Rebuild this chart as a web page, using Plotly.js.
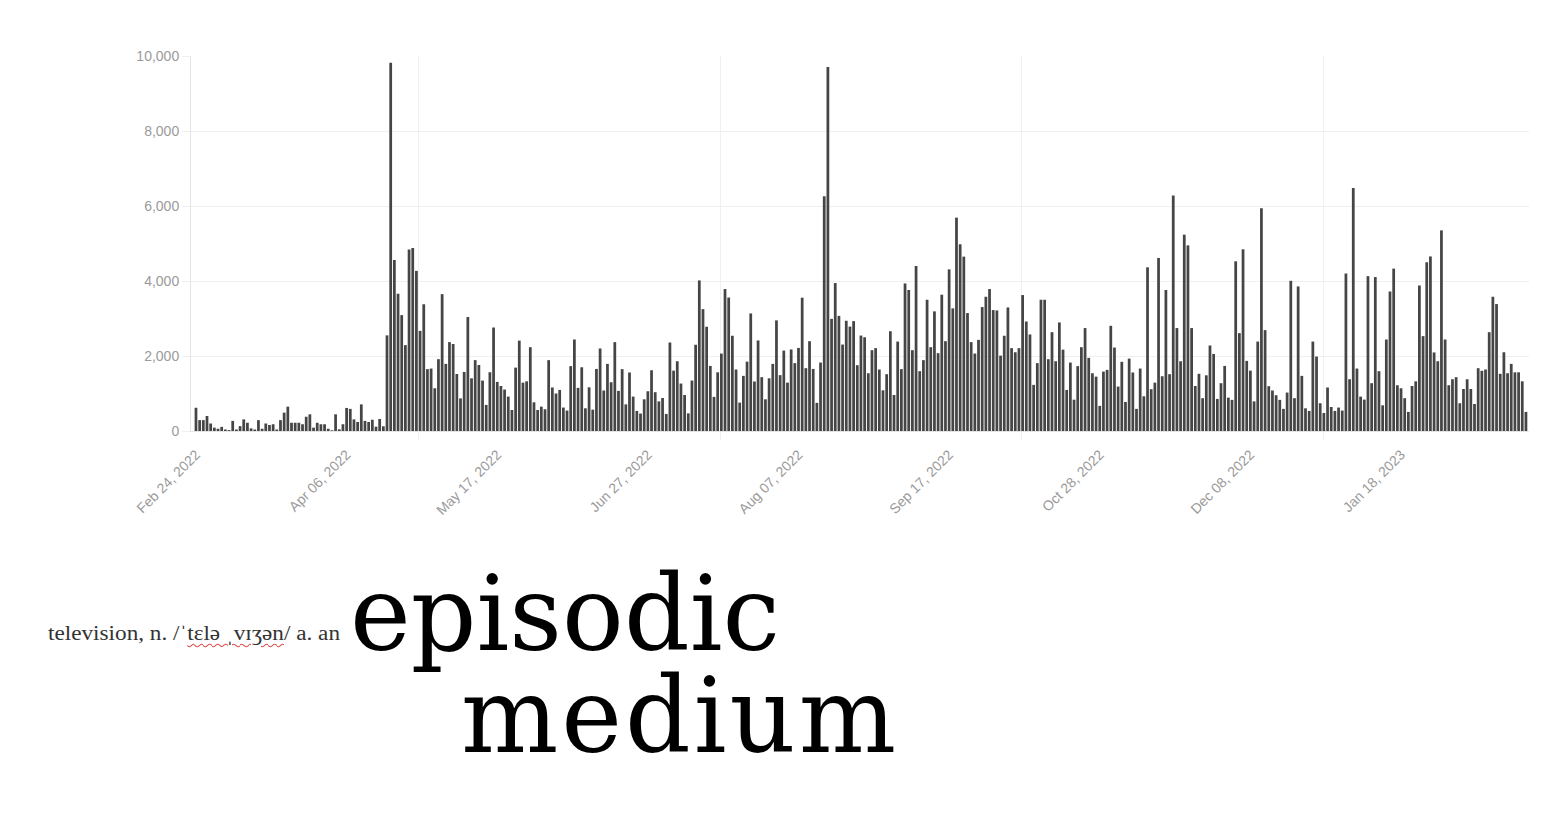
<!DOCTYPE html>
<html>
<head>
<meta charset="utf-8">
<script src="https://cdn.plot.ly/plotly-3.0.1.min.js"></script>
<style>
  html, body { margin: 0; padding: 0; background: #fff; }
  body { width: 1566px; height: 814px; position: relative; overflow: hidden; }
  #chart { position: absolute; left: 0; top: 0; width: 1566px; height: 814px; }
  .txt { position: absolute; line-height: normal; transform-origin: 0 0; }
  #def { white-space: nowrap; font-family: "Liberation Serif", "Times New Roman", serif; font-size: 20px; color: #333; }
  #def .sq { text-decoration: underline wavy #d9534f; text-decoration-thickness: 1px; text-underline-offset: 3px; }
  #big { white-space: normal; font-family: "DejaVu Serif", "Liberation Serif", serif; font-size: 104px; line-height: 102px; color: #000; width: 640px; letter-spacing: 3px; }
  #big::first-line { letter-spacing: 0px; }
</style>
</head>
<body>
<div id="chart"></div>
<div id="def" class="txt">television, n. /ˈ<span class="sq">tɛlə ˌvɪʒən</span>/ a. an</div>
<div id="big" class="txt">episodic medium</div>
<script>
// ---- data ----
const startDate = "2022-02-24";
const dailyCounts = [
  620,290,290,400,200,90,60,110,40,25,270,40,130,310,220,70,40,290,60,200,160,180,40,290,490,650,220,220,220,180,380,445,90,220,180,180,60,20,
  445,45,180,615,590,310,240,710,270,240,300,115,320,125,2550,9820,4560,3660,3090,2290,4840,4880,4270,2670,3380,1650,1665,1140,1915,3650,1790,2370,2320,1520,870,1575,3040,1405,1890,1760,
  1345,695,1567,2760,1310,1200,1105,917,560,1690,2410,1290,1325,2235,765,560,650,580,1890,1160,1000,1095,625,545,1730,2440,1150,1700,605,1165,570,1655,2200,1080,1790,1300,2370,1070,1650,710,
  1560,917,535,465,845,1060,1620,1035,790,880,455,2360,1610,1860,1265,960,470,1345,2300,4015,3250,2780,1735,910,1565,2065,3785,3560,2540,1640,757,1470,1850,3135,1320,2415,1435,845,1405,
  1790,2950,1490,2145,1290,2175,1810,2215,3555,1675,2395,1655,750,1825,6260,9705,2990,3945,3070,2305,2940,2785,2930,1755,2545,2500,1540,2155,2210,1640,1085,1515,2660,960,2385,1650,3935,3760,2155,
  4400,1595,1890,3500,2235,3190,2075,3635,2395,4310,3270,5690,4980,4650,3145,2370,2065,2430,3305,3580,3785,3225,3215,2010,2540,3295,2210,2100,2210,3625,2920,2575,1230,1810,3500,3500,1915,2635,1860,2895,
  2170,1095,1825,835,1730,2235,2745,1950,1540,1450,670,1585,1630,2805,2225,1185,1845,775,1930,1560,590,1665,925,4365,1115,1290,4615,1460,3760,1515,6280,2745,1860,5235,4950,2745,1200,1525,875,
  1485,2280,2055,855,1275,1735,890,830,4525,2610,4845,1870,1610,790,2385,5940,2690,1195,1080,955,830,590,1025,4005,875,3855,1470,605,535,2385,1985,740,480,1160,640,535,625,545,4200,1380,
  6480,1665,917,837,4130,1275,4105,1595,685,2440,3720,4330,1220,1140,875,510,1200,1325,3880,2530,4500,4655,2095,1860,5350,2440,1220,1380,1435,740,1120,1380,1120,720,1675,1605,1640,2635,3580,3385,1525,2100,1540,1790,1565,1565,1325,510
];
const xTickDates = ["2022-02-24","2022-04-06","2022-05-17","2022-06-27","2022-08-07","2022-09-17","2022-10-28","2022-12-08","2023-01-18"];
const xGridDates = ["2022-04-25 12:00","2022-07-16 16:48","2022-10-06 16:48","2022-12-27 19:12"];
const yTickValues = [0,2000,4000,6000,8000,10000];

// build day categories from the start date
const days = [];
const t0 = Date.parse(startDate + "T00:00:00Z");
for (let i = 0; i < dailyCounts.length; i++) {
  days.push(new Date(t0 + i * 86400000).toISOString().slice(0, 10));
}

const trace = {
  type: "bar",
  x: days,
  y: dailyCounts,
  marker: { color: "#454545", line: { width: 0 } },
  hoverinfo: "x+y"
};

const tickFont = { family: "Liberation Sans, Arial, Helvetica, sans-serif", size: 14, color: "#9a9a9a" };

const layout = {
  width: 1566, height: 814,
  margin: { l: 191, r: 37, t: 56, b: 383, pad: 0 },
  paper_bgcolor: "#fff", plot_bgcolor: "#fff",
  showlegend: false,
  bargap: 0.25,
  xaxis: {
    type: "date",
    range: ["2022-02-22 15:30", "2023-02-21 20:00"],
    tickmode: "array",
    tickvals: xTickDates,
    tickformat: "%b %d, %Y",
    tickangle: -45,
    tickfont: tickFont,
    ticks: "outside", ticklen: 9, tickcolor: "rgba(0,0,0,0)",
    showgrid: false,
    showline: true, linecolor: "#e4e4e4", linewidth: 1,
    zeroline: false,
    minor: { tickmode: "array", tickvals: xGridDates, showgrid: true, gridcolor: "#f0f0f0", gridwidth: 1, ticks: "outside", ticklen: 8, tickcolor: "#f0f0f0" },
    fixedrange: true
  },
  yaxis: {
    range: [0, 10000],
    tickmode: "array",
    tickvals: yTickValues,
    tickformat: ",d",
    tickfont: tickFont,
    ticks: "outside", ticklen: 8, tickcolor: "#efefef",
    showgrid: true, gridcolor: "#efefef", gridwidth: 1,
    showline: true, linecolor: "#e4e4e4", linewidth: 1,
    zeroline: false,
    fixedrange: true
  }
};

Plotly.newPlot("chart", [trace], layout, { displayModeBar: false, staticPlot: true });

// ---- text block under the chart ----
function baselineOffset(el) {
  const probe = document.createElement("span");
  probe.style.cssText = "display:inline-block;width:0;height:0;vertical-align:baseline";
  el.insertBefore(probe, el.firstChild);
  const b = probe.getBoundingClientRect().bottom - el.getBoundingClientRect().top;
  el.removeChild(probe);
  return b;
}
// small definition line
(function () {
  const el = document.getElementById("def");
  el.style.left = "48px"; el.style.top = "0px";
  el.style.top = (640 - baselineOffset(el)) + "px";
  const w = el.getBoundingClientRect().width;
  el.style.transform = "scaleX(" + (292 / w) + ")";
})();
// big two-line phrase in one block: first line at x=350, second line indented to x=461
(function () {
  const el = document.getElementById("big");
  const node = el.firstChild;
  const r = document.createRange();
  r.setStart(node, 0); r.setEnd(node, 8);
  const s = 430 / r.getBoundingClientRect().width;
  const indent = 111 / s;
  el.style.paddingLeft = indent + "px";
  el.style.textIndent = (-indent) + "px";
  el.style.left = "350px"; el.style.top = "0px";
  const b = baselineOffset(el);
  el.style.top = (650 - b) + "px";
  el.style.transform = "scaleX(" + s + ")";
})();
</script>
</body>
</html>
